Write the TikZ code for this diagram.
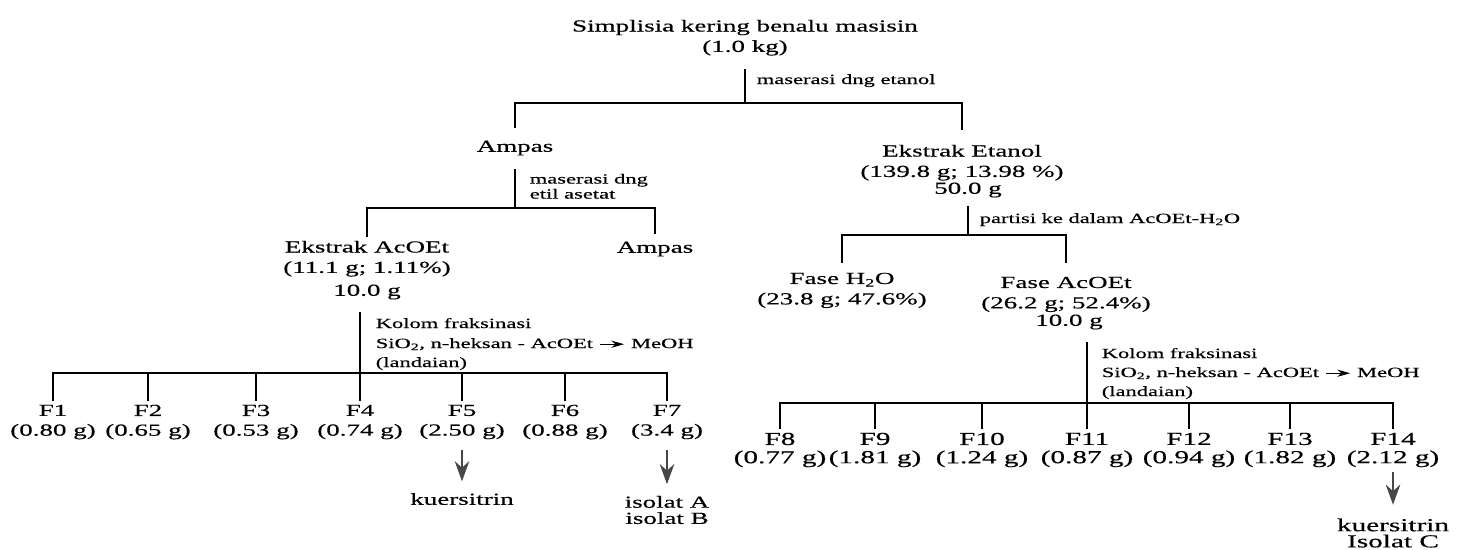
\documentclass[tikz,border=0pt]{standalone}
\usepackage{fontspec}
\setmainfont{Liberation Serif}[FakeStretch=1.6, FakeBold=0.4]
\usetikzlibrary{arrows.meta, positioning}

\begin{document}
\begin{tikzpicture}[x=0.025cm, y=-0.025cm, line width=1.4pt,
    every node/.style={inner sep=2pt},
    lbl/.style={font=\fontsize{12}{14.5}\selectfont, align=center},
    fracL/.style={font=\fontsize{12}{14}\selectfont, align=center, anchor=north},
    fracR/.style={font=\fontsize{13}{13}\selectfont, align=center, anchor=north},
    note/.style={font=\fontsize{10}{10.7}\selectfont, align=left, anchor=base west},
    res/.style={draw=black!72, line width=2pt, -{Stealth[length=0.5cm, width=0.36cm]}, shorten <=0.17cm, shorten >=0.2cm},
    grad/.style={line width=0.8pt, -{Stealth[length=0.32cm, width=0.18cm]}, shorten <=0.08cm, shorten >=0.08cm}]
                    \useasboundingbox (0,0) rectangle (1460,549);
                    \coordinate (h0) at (0,103);
                    \coordinate (h1) at (0,208);
                    \coordinate (h2) at (0,235);
                    \coordinate (hL) at (0,373);
                    \coordinate (hR) at (0,403);

                    \node[lbl, anchor=north] (simp) at (745,16) {Simplisia kering benalu masisin\\(1.0 kg)};
                    \node[note] (masA) at (753,84) {maserasi dng etanol};
                    \node[lbl] (ampasA) at (515,148) {Ampas};
                    \node[lbl, anchor=north] (ekE) at (962,141) {Ekstrak Etanol\\(139.8 g; 13.98 \%)};
                    \node[lbl] (fiftyE) at (968,190) {50.0 g};
                    \draw[shorten <=0.25cm] (simp.south) -- (simp.south |- h0);
                    \draw[shorten <=0.22cm, shorten >=0.27cm] (ampasA.north) |- (simp.south |- h0) -| (ekE.north);

                    \node[note, anchor=north west] (masB) at (526,170) {maserasi dng\\etil asetat};
                    \node[lbl, anchor=north] (ekA) at (367,237) {Ekstrak AcOEt\\(11.1 g; 1.11\%)};
                    \node[lbl] (tenA) at (367,292) {10.0 g};
                    \node[lbl] (ampasB) at (655,249) {Ampas};
                    \draw[shorten <=0.25cm] (ampasA.south) -- (ampasA.south |- h1);
                    \draw[shorten >=0.1cm] (ekA.north) |- (ampasA.south |- h1) -| (ampasB.north);

                    \node[note] (part) at (976,223) {partisi ke dalam AcOEt-H\textsubscript{2}O};
                    \node[lbl, anchor=north] (fH) at (842,269) {Fase H\textsubscript{2}O\\(23.8 g; 47.6\%)};
                    \node[lbl, anchor=north] (fA) at (1066,273) {Fase AcOEt\\(26.2 g; 52.4\%)};
                    \node[lbl] (tenB) at (1069,322) {10.0 g};
                    \draw[shorten <=0.12cm] (fiftyE.south) -- (fiftyE.south |- h2);
                    \draw[shorten <=0.15cm, shorten >=0.25cm] (fH.north) |- (fiftyE.south |- h2) -| (fA.north);

                    \node[note] (kolA) at (372,328) {Kolom fraksinasi};
                    \node[note] (kolB) at (372,348) {SiO\textsubscript{2}, n-heksan - AcOEt};
                    \node[note, base right=0.76cm of kolB] (meohA) {MeOH};
                    \node[note] (kolC) at (372,367) {(landaian)};
                    \draw[grad] (kolB.east) -- (kolB.east -| meohA.west);

                    \node[fracL] (F1) at (53,401) {F1\\(0.80 g)};
                    \node[fracL] (F2) at (148,401) {F2\\(0.65 g)};
                    \node[fracL] (F3) at (256,401) {F3\\(0.53 g)};
                    \node[fracL] (F4) at (360,401) {F4\\(0.74 g)};
                    \node[fracL] (F5) at (462,401) {F5\\(2.50 g)};
                    \node[fracL] (F6) at (565,401) {F6\\(0.88 g)};
                    \node[fracL] (F7) at (667,401) {F7\\(3.4 g)};
                    \draw[shorten <=0.22cm] (F4.north |- tenA.south) -- (F4.north);
                    \draw (F1.north) |- (F7.north |- hL) -- (F7.north);
                    \draw (F2.north) -- (F2.north |- hL);
                    \draw (F3.north) -- (F3.north |- hL);
                    \draw (F5.north) -- (F5.north |- hL);
                    \draw (F6.north) -- (F6.north |- hL);

                    \node[lbl] (kuA) at (462,499) {kuersitrin};
                    \node[lbl, font=\fontsize{12}{11.5}\selectfont] (isoAB) at (667,510) {isolat A\\isolat B};
                    \draw[res] (F5.south) -- (kuA.north);
                    \draw[res] (F7.south) -- (isoAB.north);

                    \node[note] (kolD) at (1098,358) {Kolom fraksinasi};
                    \node[note] (kolE) at (1098,377) {SiO\textsubscript{2}, n-heksan - AcOEt};
                    \node[note, base right=0.76cm of kolE] (meohB) {MeOH};
                    \node[note] (kolF) at (1098,396) {(landaian)};
                    \draw[grad] (kolE.east) -- (kolE.east -| meohB.west);

                    \node[fracR] (F8) at (780,429) {F8\\(0.77 g)};
                    \node[fracR] (F9) at (875,429) {F9\\(1.81 g)};
                    \node[fracR] (F10) at (982,429) {F10\\(1.24 g)};
                    \node[fracR] (F11) at (1087,429) {F11\\(0.87 g)};
                    \node[fracR] (F12) at (1189,429) {F12\\(0.94 g)};
                    \node[fracR] (F13) at (1290,429) {F13\\(1.82 g)};
                    \node[fracR] (F14) at (1393,429) {F14\\(2.12 g)};
                    \draw[shorten <=0.22cm] (F11.north |- tenB.south) -- (F11.north);
                    \draw (F8.north) |- (F14.north |- hR) -- (F14.north);
                    \draw (F9.north) -- (F9.north |- hR);
                    \draw (F10.north) -- (F10.north |- hR);
                    \draw (F12.north) -- (F12.north |- hR);
                    \draw (F13.north) -- (F13.north |- hR);

                    \node[lbl, font=\fontsize{13}{11.5}\selectfont] (kuC) at (1393,533) {kuersitrin\\Isolat C};
                    \draw[res, shorten <=0.03cm, shorten >=0.25cm] (F14.south) -- (kuC.north);
\end{tikzpicture}
\end{document}
